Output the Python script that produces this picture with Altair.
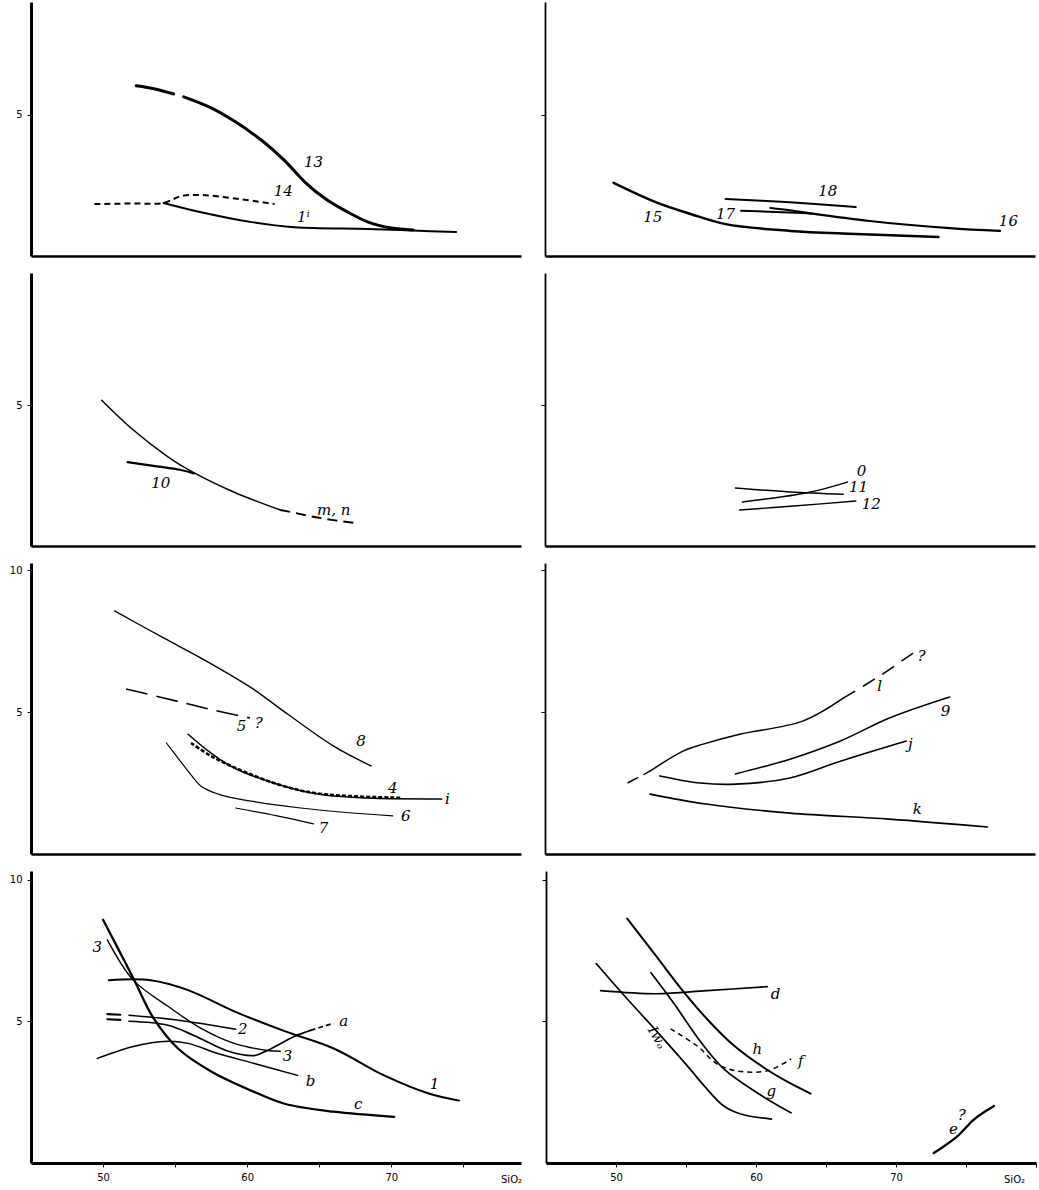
import altair as alt
import pandas as pd

# ---------------- data (SiO2 on x) ----------------
# Row 1, left
s13a_x = [52.3, 53.6, 54.9]
s13a_y = [6.03, 5.92, 5.74]
s13b_x = [55.6, 57.5, 59.1, 61.0, 62.6, 64.0, 65.5, 67.0, 68.4, 70.0, 71.5]
s13b_y = [5.64, 5.25, 4.78, 4.10, 3.38, 2.62, 2.00, 1.55, 1.20, 0.99, 0.92]
s14_x = [49.4, 52.0, 54.2, 55.4, 56.8, 59.0, 61.9]
s14_y = [1.84, 1.86, 1.88, 2.12, 2.16, 2.05, 1.84]
s1i_x = [54.2, 56.8, 60.3, 63.3, 68.4, 71.5, 74.5]
s1i_y = [1.88, 1.55, 1.20, 1.02, 0.96, 0.90, 0.85]
# Row 1, right
s15_x = [49.9, 52.9, 55.4, 57.9, 62.5, 67.2, 73.1]
s15_y = [2.59, 1.91, 1.49, 1.13, 0.89, 0.78, 0.67]
s16_x = [61.1, 62.5, 64.1, 68.2, 73.9, 77.5]
s16_y = [1.70, 1.62, 1.50, 1.24, 0.99, 0.89]
s17_x = [59.0, 61.0, 63.4, 64.1]
s17_y = [1.60, 1.57, 1.52, 1.50]
s18_x = [57.9, 62.2, 67.2]
s18_y = [2.02, 1.91, 1.74]
# Row 2, left
smn_x = [49.9, 52.1, 54.5, 56.1, 59.1, 62.3]
smn_y = [5.18, 4.12, 3.17, 2.66, 1.91, 1.28]
smn_d_x = [62.3, 63.0, 65.0, 67.4]
smn_d_y = [1.28, 1.21, 1.00, 0.82]
s10_x = [51.7, 53.5, 55.4, 56.3]
s10_y = [2.98, 2.85, 2.70, 2.58]
# Row 2, right
s0_x = [59.1, 63.9, 66.6]
s0_y = [1.56, 1.91, 2.27]
s11_x = [58.6, 62.5, 66.3]
s11_y = [2.06, 1.92, 1.84]
s12_x = [58.9, 63.0, 67.2]
s12_y = [1.28, 1.43, 1.60]
# Row 3, left
s8_x = [50.8, 54.2, 56.8, 60.3, 62.8, 66.0, 68.6]
s8_y = [8.56, 7.61, 6.90, 5.85, 4.93, 3.80, 3.10]
s5_x = [51.6, 54.5, 57.3, 60.2]
s5_y = [5.81, 5.46, 5.11, 4.79]
si_x = [55.9, 57.5, 59.1, 62.1, 64.9, 68.4, 73.5]
si_y = [4.22, 3.55, 3.03, 2.46, 2.11, 1.97, 1.94]
s4_x = [56.1, 57.5, 59.1, 62.1, 64.9, 70.7]
s4_y = [3.91, 3.45, 3.05, 2.46, 2.13, 1.98]
s6_x = [54.4, 55.2, 55.9, 56.8, 58.0, 59.1, 63.7, 70.1]
s6_y = [3.91, 3.38, 2.92, 2.39, 2.11, 1.97, 1.62, 1.34]
s7_x = [59.2, 62.0, 64.6]
s7_y = [1.62, 1.35, 1.06]
# Row 3, right
sl_a_x = [50.9, 52.5]
sl_a_y = [2.50, 2.92]
sl_x = [52.5, 54.9, 56.3, 58.9, 63.4, 66.3]
sl_y = [2.92, 3.63, 3.87, 4.22, 4.68, 5.49]
sl_b_x = [66.3, 68.9, 71.3]
sl_b_y = [5.49, 6.27, 7.08]
s9_x = [58.6, 62.5, 66.1, 69.6, 73.9]
s9_y = [2.82, 3.34, 3.98, 4.79, 5.53]
sj_x = [53.2, 56.1, 58.6, 62.5, 66.1, 70.8]
sj_y = [2.75, 2.50, 2.46, 2.68, 3.27, 3.98]
sk_x = [52.5, 56.5, 62.5, 69.6, 76.6]
sk_y = [2.11, 1.76, 1.44, 1.23, 0.95]
# Row 4, left
sc_x = [50.0, 52.1, 53.5, 55.2, 57.5, 60.3, 62.6, 66.0, 70.2]
sc_y = [8.58, 6.52, 5.11, 4.04, 3.23, 2.55, 2.09, 1.81, 1.63]
s3_x = [50.3, 52.1, 54.5, 56.8, 59.1, 61.4, 62.3]
s3_y = [7.87, 6.45, 5.53, 4.75, 4.22, 3.97, 3.94]
s1_x = [50.4, 53.3, 55.9, 59.1, 62.6, 66.0, 69.5, 72.6, 74.7]
s1_y = [6.45, 6.45, 6.10, 5.35, 4.65, 4.04, 3.09, 2.45, 2.20]
s2_x = [51.8, 55.0, 59.2]
s2_y = [5.21, 5.05, 4.72]
s2p_x = [50.3, 51.2]
s2p_y = [5.25, 5.23]
sa_x = [51.8, 54.5, 56.3, 58.7, 60.5, 61.4, 63.3, 64.4]
sa_y = [5.00, 4.86, 4.50, 3.94, 3.79, 3.97, 4.47, 4.68]
sa_d_x = [64.4, 66.0]
sa_d_y = [4.68, 4.93]
sap_x = [50.3, 51.2]
sap_y = [5.07, 5.05]
sb_x = [49.6, 52.1, 54.2, 55.9, 57.9, 60.5, 63.5]
sb_y = [3.69, 4.11, 4.29, 4.22, 3.87, 3.51, 3.09]
# Row 4, right
sh_x = [50.8, 52.9, 54.6, 56.5, 58.4, 60.6, 62.3, 63.9]
sh_y = [8.62, 7.28, 6.18, 5.08, 4.15, 3.35, 2.85, 2.45]
sg_x = [52.5, 54.1, 56.1, 57.7, 60.1, 62.5]
sg_y = [6.71, 5.65, 4.24, 3.32, 2.47, 1.77]
siw_x = [48.6, 50.6, 52.9, 55.4, 56.3, 57.7, 58.9, 61.1]
siw_y = [7.03, 5.90, 4.65, 3.25, 2.72, 2.01, 1.73, 1.55]
sd_x = [48.9, 52.9, 56.5, 60.8]
sd_y = [6.08, 5.97, 6.08, 6.22]
sf_x = [53.9, 55.8, 57.2, 58.6, 60.8, 62.5]
sf_y = [4.73, 4.13, 3.50, 3.25, 3.25, 3.67]
se_x = [72.7, 74.4, 75.6, 77.0]
se_y = [0.35, 0.95, 1.55, 2.01]

# curve labels (text, x, y) per panel
lab_r1l = (["13", "14", "1ⁱ"], [64.6, 62.5, 63.9], [3.33, 2.30, 1.38])
lab_r1r = (["18", "17", "15", "16"], [65.2, 57.9, 52.7, 78.1], [2.30, 1.49, 1.38, 1.24])
lab_r2l = (["10", "m, n"], [54.0, 66.0], [2.23, 1.28])
lab_r2r = (["0", "11", "12"], [67.6, 67.4, 68.3], [2.66, 2.09, 1.49])
lab_r3l = (["5", "?", "8", "4", "i", "6", "7"], [59.6, 60.8, 67.9, 70.1, 73.9, 71.0, 65.3],
           [4.51, 4.61, 3.98, 2.32, 1.94, 1.34, 0.92])
lab_r3r = (["?", "l", "9", "j", "k"], [71.9, 68.9, 73.6, 71.1, 71.6], [6.97, 5.92, 5.04, 3.87, 1.58])
lab_r4l = (["3", "3", "2", "a", "b", "c", "1"], [49.6, 62.8, 59.7, 66.7, 64.4, 67.7, 73.0],
           [7.62, 3.79, 4.72, 5.00, 2.91, 2.09, 2.77])
lab_r4r = (["d", "h", "f", "g", "e", "?"], [61.4, 60.1, 63.2, 61.1, 74.1, 74.7],
           [5.97, 4.03, 3.60, 2.54, 1.20, 1.70])
lab_iw = (["Iwₒ"], [52.9], [4.42])

X_LEFT = [45, 79]
X_RIGHT = [45, 80]
W = 490
LABEL_FONT = "DejaVu Serif"


def xaxis(bottom, right):
    if not bottom:
        return alt.Axis(labels=False, ticks=False, grid=False, title=None,
                        domainWidth=2.5, domainColor="black", minExtent=0, maxExtent=0)
    vals = [50, 55, 60, 65, 70, 75] + ([80] if right else [])
    return alt.Axis(values=vals,
                    labelExpr="(datum.value % 10 == 0 && datum.value < 80) ? datum.label : ''",
                    tickSize=4, tickColor="black", domainWidth=3, domainColor="black",
                    labelColor="black", labelFontSize=10, labelFont="DejaVu Sans",
                    labelPadding=5, grid=False, title="SiO₂",
                    titleX=(468 if right else 480), titleY=16, titleBaseline="middle",
                    titleFontWeight="normal", titleFontSize=10, titleFont="DejaVu Sans",
                    titleColor="black")


def yaxis(right, ticks):
    if right:
        return alt.Axis(values=ticks, labels=False, tickSize=4, tickColor="black",
                        domainWidth=1.8, domainColor="black", grid=False, title=None,
                        minExtent=4, maxExtent=4)
    return alt.Axis(values=ticks, tickSize=4, tickColor="black", domainWidth=3,
                    domainColor="black", labelColor="black", labelFontSize=10,
                    labelFont="DejaVu Sans", labelPadding=5, grid=False, title=None,
                    minExtent=25, maxExtent=25)


def panel(series, labels, ydom, height, right, bottom, yticks, extra_labels=None):
    xdom = X_RIGHT if right else X_LEFT
    xs = alt.Scale(domain=xdom, nice=False, zero=False)
    ys = alt.Scale(domain=ydom, nice=False, zero=False)
    xa = xaxis(bottom, right)
    ya = yaxis(right, yticks)
    layers = []
    for (sx, sy, width, dash) in series:
        df = pd.DataFrame({"x": sx, "y": sy})
        kw = dict(color="black", strokeWidth=width, interpolate="catmull-rom",
                  strokeCap="round", clip=True)
        if dash:
            kw["strokeDash"] = dash
            kw["strokeCap"] = "butt"
        layers.append(alt.Chart(df).mark_line(**kw).encode(
            x=alt.X("x:Q", scale=xs, axis=xa),
            y=alt.Y("y:Q", scale=ys, axis=ya)))
    t, lx, ly = labels
    ldf = pd.DataFrame({"t": t, "x": lx, "y": ly})
    layers.append(alt.Chart(ldf).mark_text(font=LABEL_FONT, fontStyle="italic",
                                           fontSize=15, color="black").encode(
        x=alt.X("x:Q", scale=xs, axis=xa), y=alt.Y("y:Q", scale=ys, axis=ya), text="t:N"))
    if extra_labels:
        t, lx, ly = extra_labels
        edf = pd.DataFrame({"t": t, "x": lx, "y": ly})
        layers.append(alt.Chart(edf).mark_text(font=LABEL_FONT, fontStyle="italic",
                                               fontSize=14, angle=60, color="black").encode(
            x=alt.X("x:Q", scale=xs, axis=xa), y=alt.Y("y:Q", scale=ys, axis=ya), text="t:N"))
    return alt.layer(*layers).properties(width=W, height=height)


r1l = panel([(s13a_x, s13a_y, 3, None), (s13b_x, s13b_y, 3, None),
             (s14_x, s14_y, 2, [6, 4]), (s1i_x, s1i_y, 2, None)],
            lab_r1l, [0, 9.0], 254, False, False, [5])
r1r = panel([(s15_x, s15_y, 2.5, None), (s16_x, s16_y, 2.2, None),
             (s17_x, s17_y, 2, None), (s18_x, s18_y, 2, None)],
            lab_r1r, [0, 9.0], 254, True, False, [5])
r2l = panel([(smn_x, smn_y, 1.5, None), (smn_d_x, smn_d_y, 2, [10, 6]),
             (s10_x, s10_y, 2.2, None)],
            lab_r2l, [0, 9.7], 273, False, False, [5])
r2r = panel([(s0_x, s0_y, 1.5, None), (s11_x, s11_y, 1.5, None), (s12_x, s12_y, 1.4, None)],
            lab_r2r, [0, 9.7], 273, True, False, [5])
r3l = panel([(s8_x, s8_y, 1.4, None), (s5_x, s5_y, 1.6, [22, 9]),
             (si_x, si_y, 1.5, None), (s4_x, s4_y, 2.6, [4, 2]),
             (s6_x, s6_y, 1.2, None), (s7_x, s7_y, 1.2, None)],
            lab_r3l, [0, 10.25], 291, False, False, [5, 10])
r3r = panel([(sl_a_x, sl_a_y, 1.5, [12, 6]), (sl_x, sl_y, 1.5, None),
             (sl_b_x, sl_b_y, 1.5, [14, 9]), (s9_x, s9_y, 1.5, None),
             (sj_x, sj_y, 1.6, None), (sk_x, sk_y, 1.6, None)],
            lab_r3r, [0, 10.25], 291, True, False, [5, 10])
r4l = panel([(sc_x, sc_y, 2.3, None), (s3_x, s3_y, 1.4, None), (s1_x, s1_y, 2, None),
             (s2_x, s2_y, 1.5, None), (s2p_x, s2p_y, 2.2, None),
             (sa_x, sa_y, 1.7, None), (sa_d_x, sa_d_y, 1.7, [5, 3]), (sap_x, sap_y, 2.2, None),
             (sb_x, sb_y, 1.5, None)],
            lab_r4l, [0, 10.3], 292, False, True, [5, 10])
r4r = panel([(sh_x, sh_y, 2, None), (sg_x, sg_y, 1.7, None), (siw_x, siw_y, 1.7, None),
             (sd_x, sd_y, 1.6, None), (sf_x, sf_y, 1.5, [5, 4]), (se_x, se_y, 2.4, None)],
            lab_r4r, [0, 10.3], 292, True, True, [5, 10], extra_labels=lab_iw)

rows = [alt.hconcat(a, b, spacing=18) for a, b in [(r1l, r1r), (r2l, r2r), (r3l, r3r), (r4l, r4r)]]
chart = alt.vconcat(*rows, spacing=15).properties(
    padding={"left": 5, "top": 1, "right": 2, "bottom": 2},
    background="white"
).configure_view(stroke="transparent").configure_concat(spacing=15)

chart.save("out.html", embed_options={"renderer": "svg", "actions": False})
